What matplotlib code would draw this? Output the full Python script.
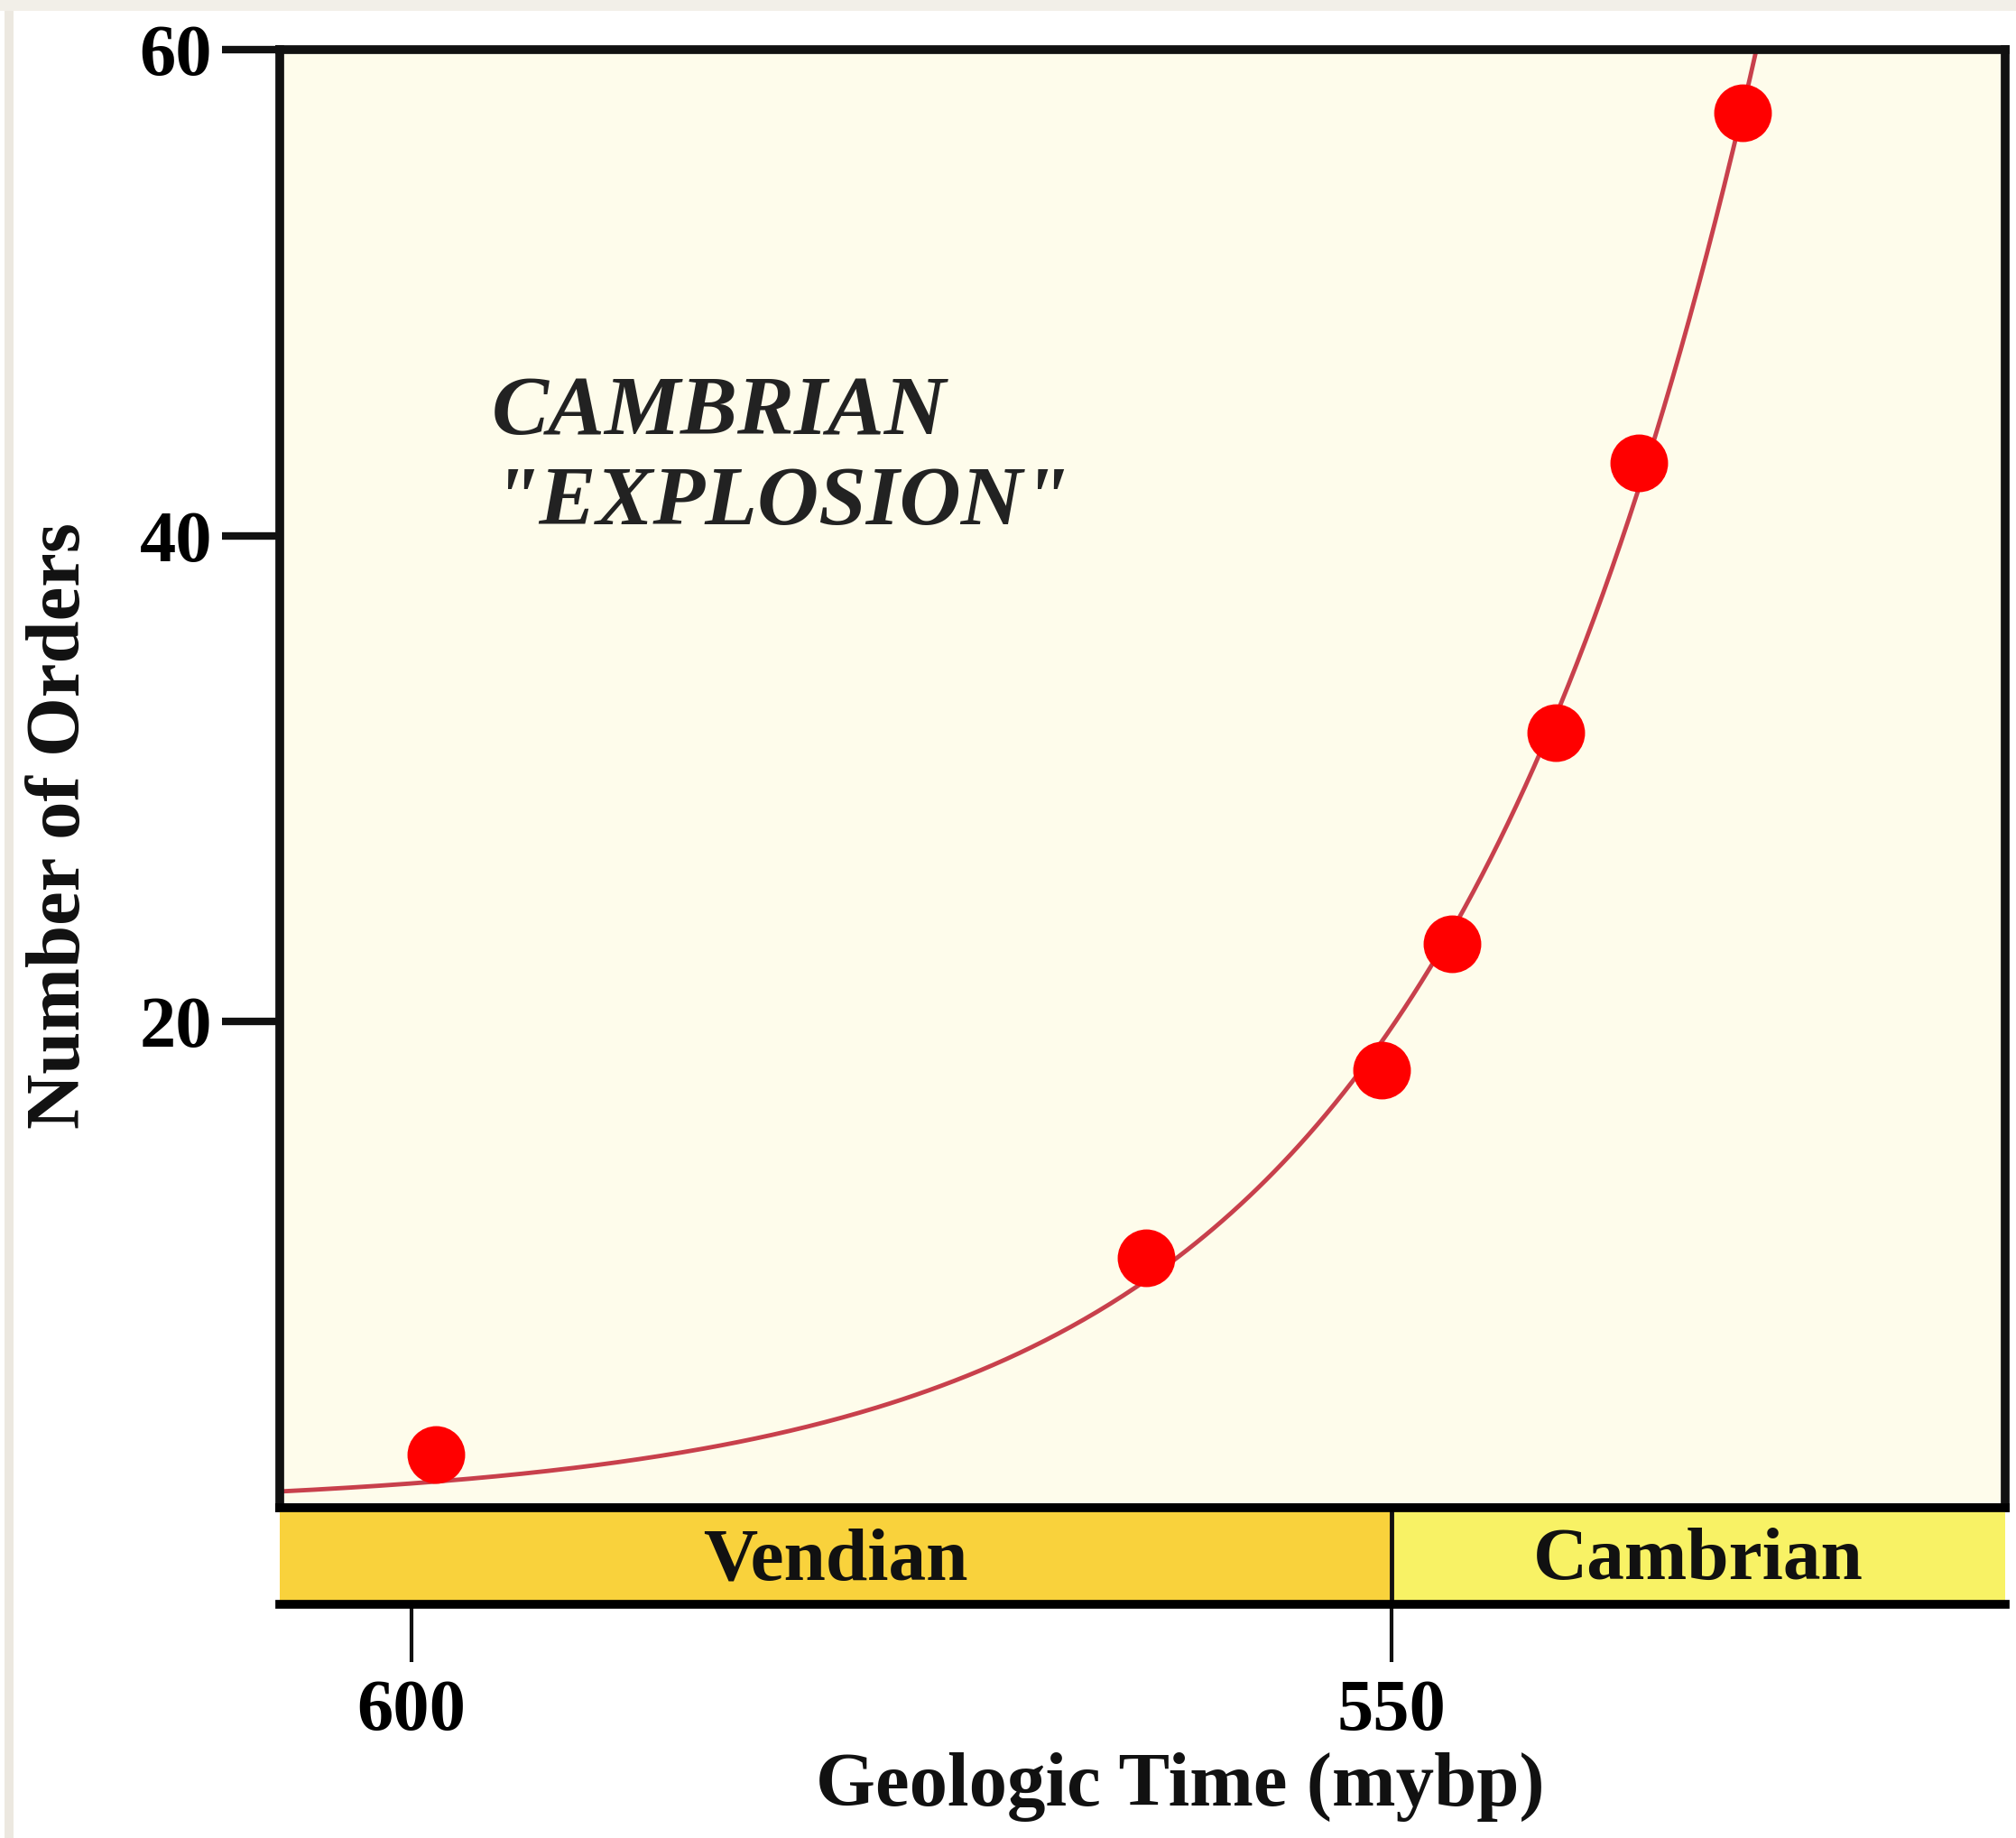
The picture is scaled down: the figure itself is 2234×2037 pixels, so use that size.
import numpy as np
import matplotlib
matplotlib.use("Agg")
import matplotlib.pyplot as plt
from matplotlib.patches import Rectangle

# data (time in mybp, count of orders)
time_mybp = [598.75, 562.5, 550.5, 546.9, 541.6, 537.4, 532.1]
n_orders = [2.2, 10.3, 18.0, 23.2, 31.9, 43.0, 57.4]

periods = ["Vendian", "Cambrian"]
period_bounds = [(606.72, 550), (550, 518.69)]
period_colors = ["#F9D23C", "#F8F265"]

xticks = [600, 550]
yticks = [20, 40, 60]

serif = ["Liberation Serif", "DejaVu Serif"]
plt.rcParams["font.family"] = serif
plt.rcParams["font.weight"] = "bold"

W, H = 2234, 2037
fig = plt.figure(figsize=(W / 100, H / 100), dpi=100)
fig.patch.set_facecolor("white")

# thin beige border of the scan
fig.add_artist(Rectangle((5 / W, 0), 10 / W, 1, transform=fig.transFigure,
                         color="#ECE8E0", lw=0, zorder=-5))
fig.add_artist(Rectangle((0, 1 - 12 / H), 1, 12 / H, transform=fig.transFigure,
                         color="#F2EFE8", lw=0, zorder=-5))

x0, x1 = 310, 2222
y_top, y_bot, y_band = 55, 1671, 1778
ax = fig.add_axes([x0 / W, 1 - y_bot / H, (x1 - x0) / W, (y_bot - y_top) / H])
band = fig.add_axes([x0 / W, 1 - y_band / H, (x1 - x0) / W, (y_band - y_bot) / H],
                    sharex=ax)

ax.set_facecolor("#FEFCEB")
ax.set_xlim(period_bounds[0][0], period_bounds[1][1])
ax.set_ylim(0, 60)

# exponential trend fitted to the points
k, b = np.polyfit(time_mybp, np.log(n_orders), 1, w=np.array(n_orders))
xs = np.linspace(period_bounds[0][0], period_bounds[1][1], 400)
ax.plot(xs, np.exp(k * xs + b), color="#C8404C", lw=3.5, zorder=2)
ax.plot(time_mybp, n_orders, "o", color="#FF0000", ms=46, mec="none", zorder=3)

for s in ax.spines.values():
    s.set_linewidth(7)
    s.set_color("#111111")
ax.set_yticks(yticks)
ax.set_yticklabels([str(v) for v in yticks], fontsize=58, fontweight="bold")
ax.tick_params(axis="y", direction="out", length=46, width=6, pad=8, color="#111111")
ax.tick_params(axis="x", bottom=False, labelbottom=False)

ax.text(595.9, 45.0, "CAMBRIAN", fontsize=68, fontweight="bold", style="italic",
        color="#222222", ha="left", va="center")
ax.text(595.9, 41.3, "\"EXPLOSION\"", fontsize=68, fontweight="bold", style="italic",
        color="#222222", ha="left", va="center")

# period band
for name, (a, c), col in zip(periods, period_bounds, period_colors):
    band.axvspan(a, c, color=col, lw=0)
    band.text((a + c) / 2, 0.44, name, fontsize=60, fontweight="bold",
              ha="center", va="center", color="#111111")
band.axvline(550, color="#111111", lw=3.5)
band.set_ylim(0, 1)
band.set_yticks([])
band.spines["left"].set_visible(False)
band.spines["right"].set_visible(False)
band.spines["top"].set_linewidth(7)
band.spines["bottom"].set_linewidth(7)
band.set_xticks(xticks)
band.set_xticklabels([str(v) for v in xticks], fontsize=58, fontweight="bold")
band.tick_params(axis="x", direction="out", length=46, width=3, pad=14, color="#111111")

fig.text(68 / W, 1 - 915 / H, "Number of Orders", rotation=90, fontsize=61,
         fontweight="bold", ha="center", va="center", color="#111111")
fig.text(1308 / W, 1 - 1980 / H, "Geologic Time (mybp)", fontsize=61,
         fontweight="bold", ha="center", va="center", color="#111111")

fig.savefig("out.png", dpi=100)
